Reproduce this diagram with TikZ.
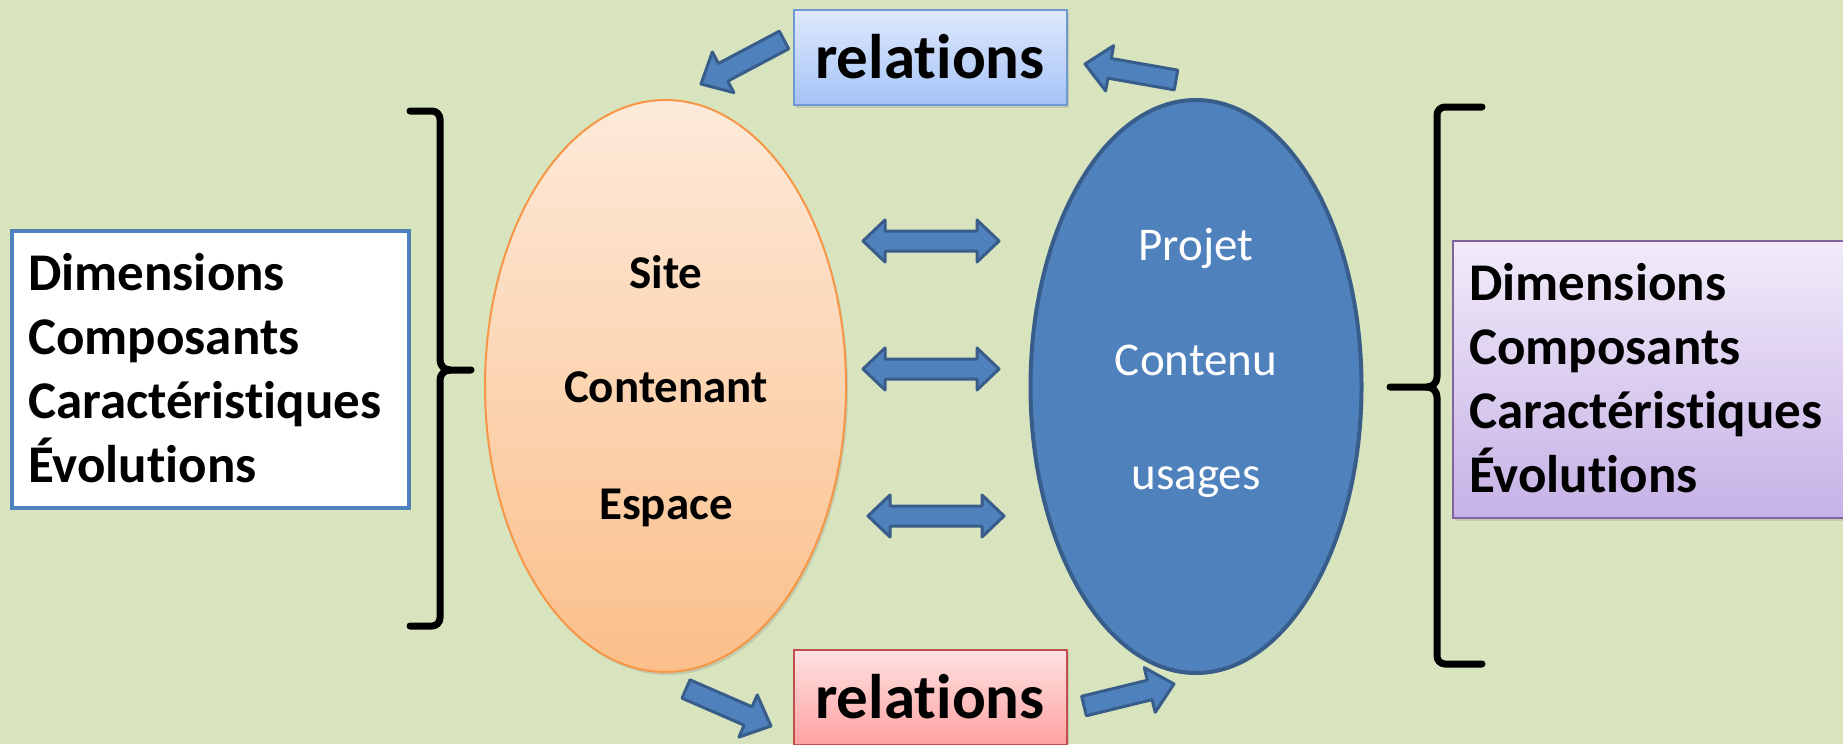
\documentclass[tikz,border=0pt]{standalone}
\usepackage{fontspec}
\setmainfont{Carlito}[Ligatures=NoCommon]
\usetikzlibrary{calc,shapes.geometric,shadows}
\definecolor{bgc}{HTML}{D7E4BD}
\definecolor{orbord}{HTML}{F79646}
\definecolor{ortop}{HTML}{FDEADA}
\definecolor{orbot}{HTML}{FBBF8A}
\definecolor{bluefill}{HTML}{4F81BD}
\definecolor{bluebord}{HTML}{385D8A}
\definecolor{tbtop}{HTML}{DFE9FD}
\definecolor{tbbot}{HTML}{A5C3F7}
\definecolor{tbbord}{HTML}{7099D2}
\definecolor{rbtop}{HTML}{FFE1E1}
\definecolor{rbbot}{HTML}{FFA2A2}
\definecolor{rbbord}{HTML}{C0504D}
\definecolor{pbtop}{HTML}{F1EBF9}
\definecolor{pbbot}{HTML}{C6B1E6}
\definecolor{pbbord}{HTML}{8064A2}
\tikzset{
  side/.style={font=\bfseries\fontsize{53}{64}\selectfont, inner sep=0pt, anchor=base west},
  ovaltxt/.style={font=\bfseries\fontsize{47}{56}\selectfont, inner sep=0pt, anchor=base},
  bluetxt/.style={font=\fontsize{47}{56}\selectfont, text=white, inner sep=0pt, anchor=base},
  reltxt/.style={font=\bfseries\fontsize{63}{75}\selectfont, inner sep=0pt, anchor=base},
  softshadow/.style={drop shadow={opacity=0.25, shadow xshift=2pt, shadow yshift=-3pt}},
  barrow/.style={fill=bluefill, draw=bluebord, line width=3pt, line join=round},
  brace/.style={draw=black, line width=7pt, line cap=round, line join=round},
  relbox/.style={rectangle, minimum width=273pt, minimum height=95pt, inner sep=0pt, line width=2pt, softshadow}
}
\newcommand\blockarrow[3]{%
  \coordinate (#1h) at ($(#3)!25pt!(#2)$);
  \draw[barrow] ($(#2)!10pt!90:(#3)$) -- ($(#1h)!10pt!90:(#3)$) -- ($(#1h)!23pt!90:(#3)$) -- (#3)
    -- ($(#1h)!23pt!270:(#3)$) -- ($(#1h)!10pt!270:(#3)$) -- ($(#2)!10pt!270:(#3)$) -- cycle;}
\newcommand\dblarrow[3]{%
  \coordinate (#1a) at ($(#2)!22pt!(#3)$);
  \coordinate (#1b) at ($(#3)!22pt!(#2)$);
  \draw[barrow] (#2) -- ($(#1a)!21pt!90:(#3)$) -- ($(#1a)!10pt!90:(#3)$) -- ($(#1b)!10pt!90:(#3)$)
    -- ($(#1b)!21pt!90:(#3)$) -- (#3) -- ($(#1b)!21pt!270:(#3)$) -- ($(#1b)!10pt!270:(#3)$)
    -- ($(#1a)!10pt!270:(#3)$) -- ($(#1a)!21pt!270:(#3)$) -- cycle;}
\begin{document}
\begin{tikzpicture}[x=1pt, y=-1pt]
  \useasboundingbox (0,0) rectangle (1843,744);
  \fill[bgc] (0,0) rectangle (1843,744);

  % brackets
  \draw[brace] (410,111) -- (432,111) to[out=0,in=90] (440,119) -- (440,360) to[out=-90,in=180] (450,370) -- (471,370);
  \draw[brace] (450,370) to[out=180,in=90] (440,380) -- (440,618) to[out=-90,in=0] (432,626) -- (410,626);
  \draw[brace] (1482,107) -- (1445,107) to[out=180,in=90] (1437,115) -- (1437,377) to[out=-90,in=0] (1427,387) -- (1390,387);
  \draw[brace] (1427,387) to[out=0,in=90] (1437,397) -- (1437,656) to[out=-90,in=180] (1445,664) -- (1482,664);

  % left box
  \node[rectangle, draw=bluefill, fill=white, line width=4pt, minimum width=397pt, minimum height=277pt, inner sep=0pt] (leftbox) at (210.5,369.5) {};
  \node[side] (l1) at (28,290) {Dimensions};
  \node[side] (l2) at (28,354) {Composants};
  \node[side] (l3) at (28,418) {Caractéristiques};
  \node[side] (l4) at (28,482) {Évolutions};

  % right box
  \node[rectangle, draw=pbbord, top color=pbtop, bottom color=pbbot, line width=2pt, minimum width=396pt, minimum height=277pt, inner sep=0pt, softshadow] (rightbox) at (1651,379.5) {};
  \node[side] (r1) at (1469,300) {Dimensions};
  \node[side] (r2) at (1469,364) {Composants};
  \node[side] (r3) at (1469,428) {Caractéristiques};
  \node[side] (r4) at (1469,492) {Évolutions};

  % ellipses
  \node[ellipse, draw=orbord, line width=2pt, top color=ortop, bottom color=orbot, minimum width=361pt, minimum height=572pt, inner sep=0pt, softshadow] (site) at (665.5,386) {};
  \node[ovaltxt] (s1) at (666,288) {Site};
  \node[ovaltxt] (s2) at (666,402) {Contenant};
  \node[ovaltxt] (s3) at (666,519) {Espace};

  \node[ellipse, draw=bluebord, line width=4pt, fill=bluefill, minimum width=331pt, minimum height=573pt, inner sep=0pt] (projet) at (1196,386.5) {};
  \node[bluetxt] (p1) at (1196,260) {Projet};
  \node[bluetxt] (p2) at (1196,375) {Contenu};
  \node[bluetxt] (p3) at (1196,489) {usages};

  % relation boxes
  \node[relbox, draw=tbbord, top color=tbtop, bottom color=tbbot] (reltop) at (930.5,57.5) {};
  \node[reltxt] (rt) at (930,78) {relations};
  \node[relbox, draw=rbbord, top color=rbtop, bottom color=rbbot] (relbot) at (930.5,697.5) {};
  \node[reltxt] (rb) at (930,718) {relations};

  % block arrows
  \coordinate (tlA) at (784,40);  \coordinate (tlB) at (701,84);
  \coordinate (trA) at (1176,80); \coordinate (trB) at (1085,64);
  \coordinate (blA) at (686,689); \coordinate (blB) at (771,726);
  \coordinate (brA) at (1084,706); \coordinate (brB) at (1174,684);
  \blockarrow{tl}{tlA}{tlB}
  \blockarrow{tr}{trA}{trB}
  \blockarrow{bl}{blA}{blB}
  \blockarrow{br}{brA}{brB}

  \coordinate (d1a) at (863,241); \coordinate (d1b) at (999,241);
  \coordinate (d2a) at (863,369); \coordinate (d2b) at (999,369);
  \coordinate (d3a) at (868,516); \coordinate (d3b) at (1004,516);
  \dblarrow{da}{d1a}{d1b}
  \dblarrow{db}{d2a}{d2b}
  \dblarrow{dc}{d3a}{d3b}
\end{tikzpicture}
\end{document}
